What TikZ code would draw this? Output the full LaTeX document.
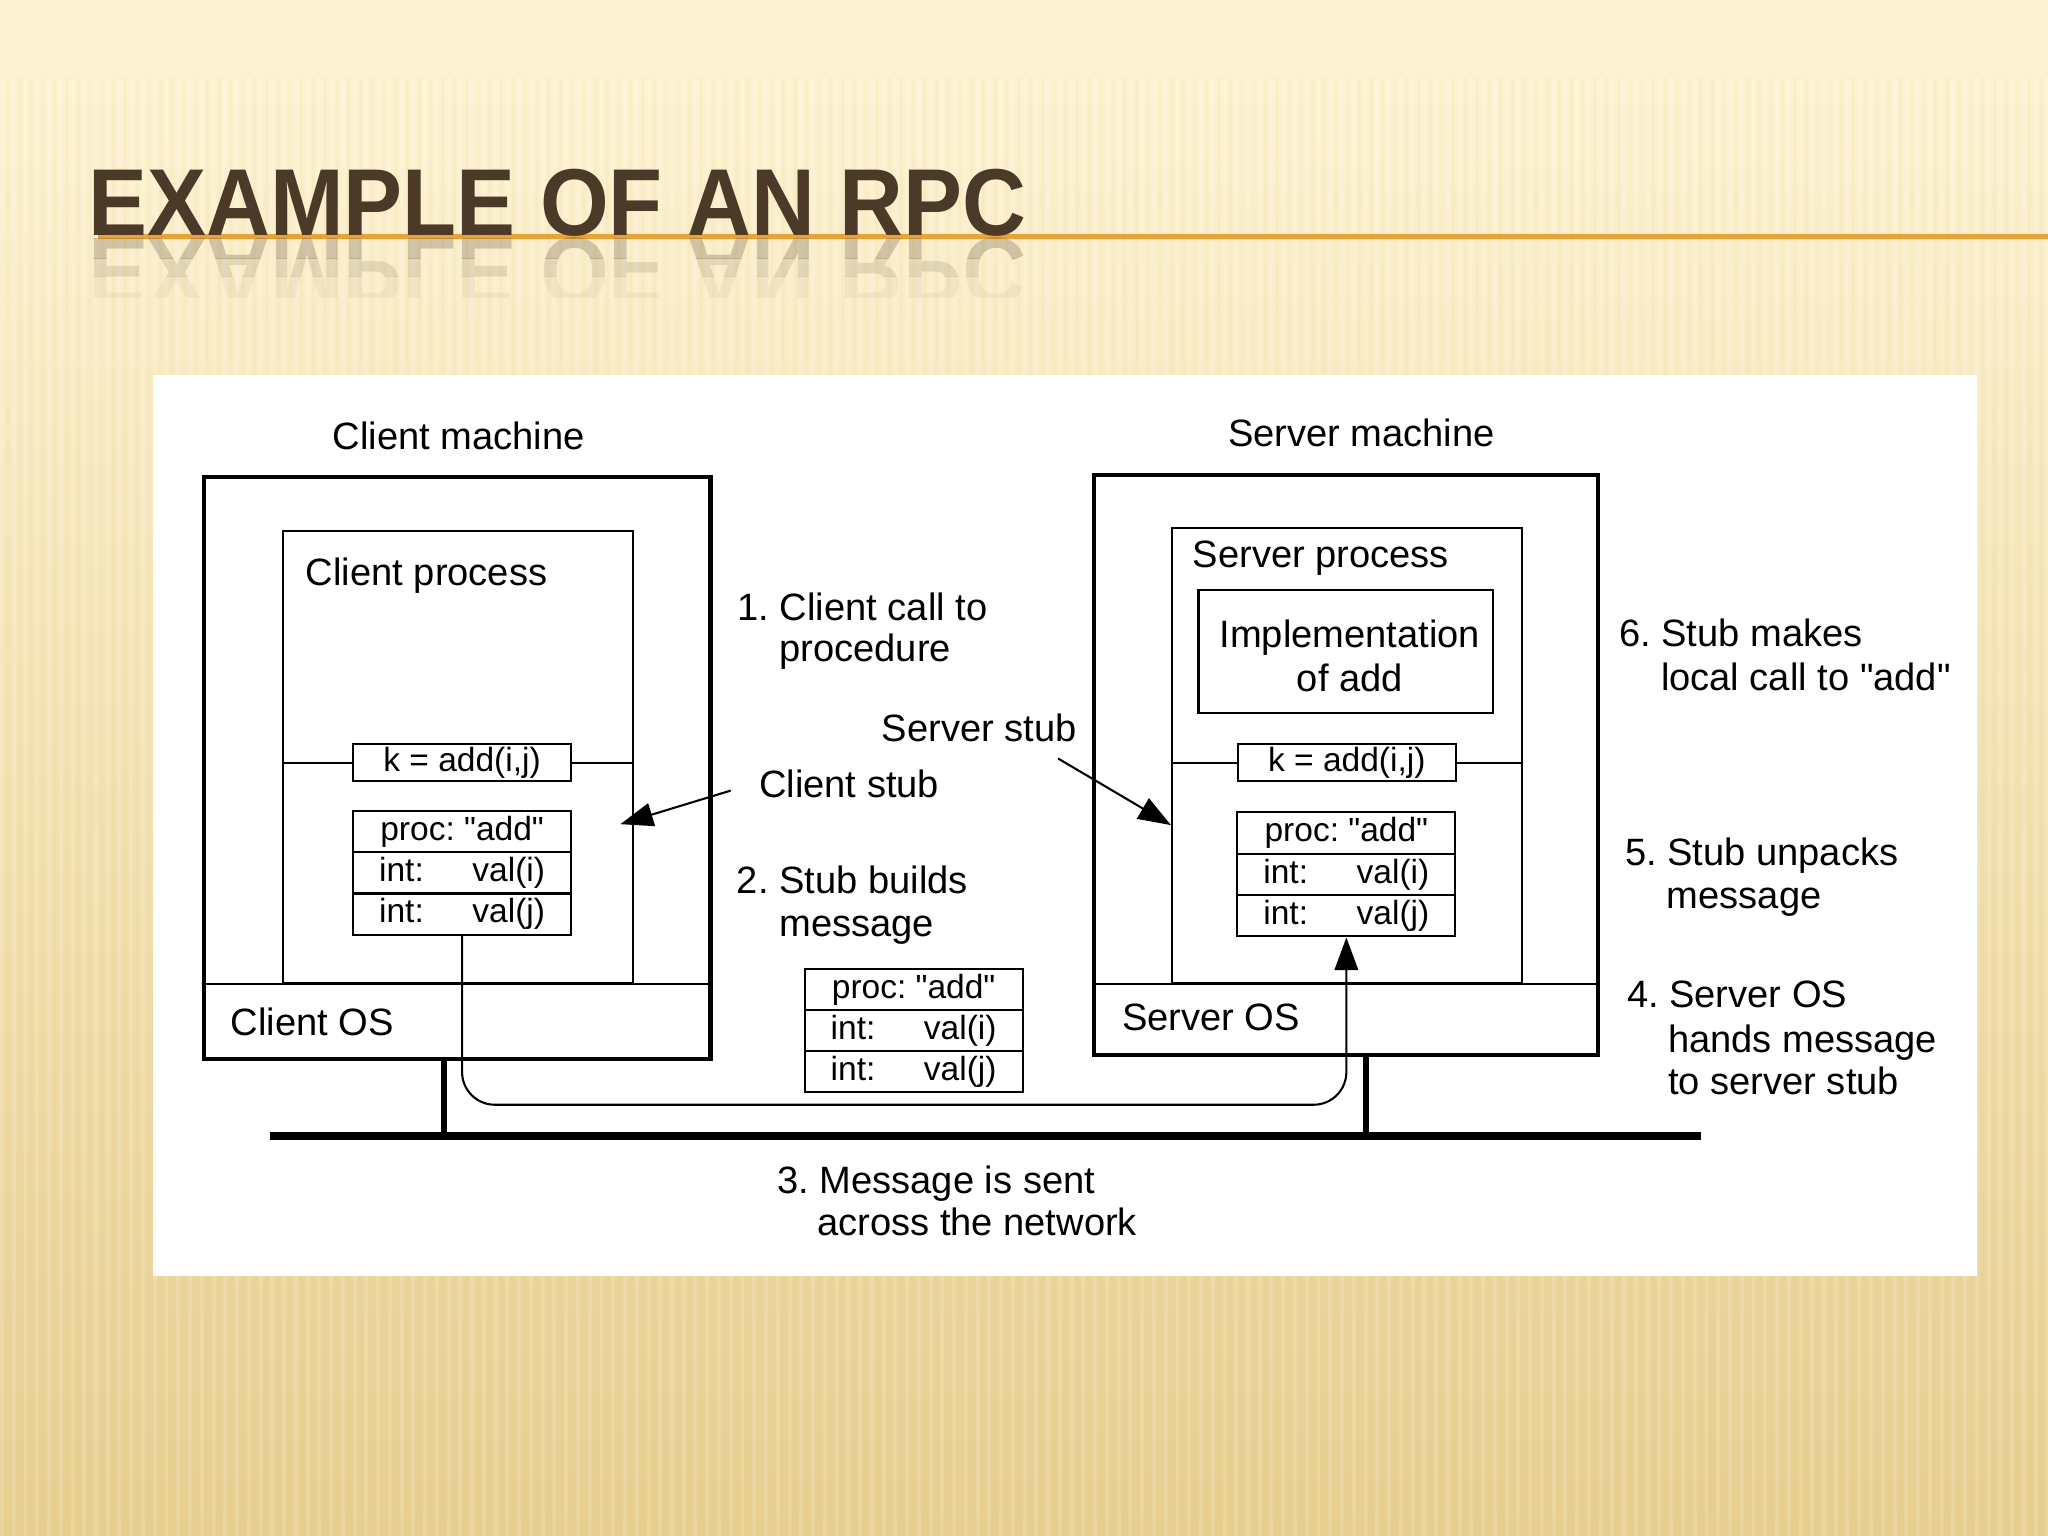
\documentclass[tikz,border=0pt]{standalone}
\usepackage{fontspec}
\setmainfont{Liberation Sans}[Ligatures=TeXOff]
\usetikzlibrary{arrows.meta}
\definecolor{bgtop}{HTML}{FEF4D4}
\definecolor{bgmid}{HTML}{F9E8B9}
\definecolor{bgbot}{HTML}{E7CE8E}
\definecolor{titlec}{HTML}{4B3A27}
\definecolor{rulec}{HTML}{E8A236}
\newcommand\mylbl{\fontsize{8.3}{9.4}\selectfont}
\newcommand\myboxf{\fontsize{7.3}{8.5}\selectfont}
\newcommand\mytitlef{\fontsize{20.7}{24}\selectfont\bfseries}
\newcommand\dq{\char34\relax}
\frenchspacing
\begin{document}
\begin{tikzpicture}[x=0.1mm,y=-0.1mm,
  thinl/.style={line width=0.45pt},
  machine/.style={draw, line width=0.9pt, inner sep=0},
  procbox/.style={draw, line width=0.45pt, inner sep=0},
  rowbox/.style={draw, line width=0.45pt, inner sep=0, minimum width=16.7mm, minimum height=3.15mm, font=\myboxf},
  lbl/.style={anchor=base west, inner sep=0, font=\mylbl},
  arrowtip/.style={-{Triangle[length=2.5mm,width=1.8mm]}},
  titletext/.style={anchor=base west, inner sep=0, text=titlec, font=\mytitlef, xscale=0.93},
]
\useasboundingbox (0,0) rectangle (1568,1176);
% background
\shade[top color=bgtop, middle color=bgmid, bottom color=bgbot] (0,0) rectangle (1568,1176);
\foreach \x in {0,9,...,1566} {
  \fill[white, opacity=0.16] (\x,60) rectangle ++(3,1116);
  \fill[bgbot, opacity=0.10] (\x+5,60) rectangle ++(2,1116);
}
% title
\draw[rulec, line width=1pt] (75,181) -- (1568,181);
\begin{scope}
  \clip (0,182) rectangle (900,198);
  \node[titletext, opacity=0.24, yscale=-1] (titlerefa) at (67,182.5) {EXAMPLE OF AN RPC};
\end{scope}
\begin{scope}
  \clip (0,198) rectangle (900,212);
  \node[titletext, opacity=0.13, yscale=-1] (titlerefb) at (67,182.5) {EXAMPLE OF AN RPC};
\end{scope}
\begin{scope}
  \clip (0,212) rectangle (900,228);
  \node[titletext, opacity=0.05, yscale=-1] (titlerefc) at (67,182.5) {EXAMPLE OF AN RPC};
\end{scope}
\node[titletext] (title) at (67,180.5) {EXAMPLE OF AN RPC};
% white panel
\fill[white] (117,287) rectangle (1514,977);

% ---------- client machine ----------
\node[machine, minimum width=38.8mm, minimum height=44.6mm] (cm) at (350,588) {};
\node[procbox, minimum width=26.8mm, minimum height=34.6mm] (cp) at (350.5,579.3) {};
\draw[thinl] (cm.west |- cp.south) -- (cm.east |- cp.south);
\node[rowbox, minimum height=2.83mm] (ck) at (353.8,583.9) {k = add(i,j)};
\draw[thinl] (cp.west |- ck) -- (ck.west);
\draw[thinl] (ck.east) -- (cp.east |- ck);
\node[rowbox] (cmsga) at (353.8,636.7) {proc: \dq add\dq};
\node[rowbox] (cmsgb) at (353.8,668.3) {\makebox[12.7mm]{int:\hfill val(i)}};
\node[rowbox] (cmsgc) at (353.8,700) {\makebox[12.7mm]{int:\hfill val(j)}};
\node[lbl] (cmlabel) at (254,344.2) {Client machine};
\node[lbl] (cplabel) at (233.5,448) {Client process};
\node[lbl] (coslabel) at (176,792.6) {Client OS};

% ---------- server machine ----------
\node[machine, minimum width=38.6mm, minimum height=44.43mm] (sm) at (1030.7,585.85) {};
\node[procbox, minimum width=26.8mm, minimum height=34.8mm] (sp) at (1031.4,578.3) {};
\draw[thinl] (sm.west |- sp.south) -- (sm.east |- sp.south);
\node[procbox, minimum width=22.54mm, minimum height=9.4mm] (impl) at (1030.3,499) {};
\node[font=\mylbl, align=center, inner sep=0] (impltext) at (1033.5,502) {Implementation\\[0.3pt]of add};
\node[rowbox, minimum height=2.83mm] (sk) at (1031.15,583.9) {k = add(i,j)};
\draw[thinl] (sp.west |- sk) -- (sk.west);
\draw[thinl] (sk.east) -- (sp.east |- sk);
\node[rowbox] (smsga) at (1030.8,637.75) {proc: \dq add\dq};
\node[rowbox] (smsgb) at (1030.8,669.5) {\makebox[12.7mm]{int:\hfill val(i)}};
\node[rowbox] (smsgc) at (1030.8,701.2) {\makebox[12.7mm]{int:\hfill val(j)}};
\node[lbl] (smlabel) at (939.5,342) {Server machine};
\node[lbl] (splabel) at (912.5,434.7) {Server process};
\node[lbl] (soslabel) at (858.5,789.2) {Server OS};

% ---------- message in transit ----------
\node[rowbox] (tmsga) at (699.5,757.5) {proc: \dq add\dq};
\node[rowbox] (tmsgb) at (699.5,789) {\makebox[12.7mm]{int:\hfill val(i)}};
\node[rowbox] (tmsgc) at (699.5,820.5) {\makebox[12.7mm]{int:\hfill val(j)}};

% ---------- network ----------
\coordinate (netl) at (206.8,869.5);
\coordinate (netr) at (1302,869.5);
\coordinate (cdrop) at (340,869.5);
\coordinate (sdrop) at (1045.5,869.5);
\draw[line width=1.3pt] (cdrop |- cm.south) -- (cdrop);
\draw[line width=1.3pt] (sdrop |- sm.south) -- (sdrop);
\draw[line width=1.7pt] (netl) -- (netr);
\coordinate (msgbend) at (0,845.8);
\draw[thinl, rounded corners=2.5mm, arrowtip] (cmsgc.south) -- (cmsgc.south |- msgbend) -- (smsgc.south |- msgbend) -- (smsgc.south);

% ---------- stub labels and arrows ----------
\node[lbl] (cstub) at (580.5,610.7) {Client stub};
\node[lbl] (sstub) at (674.5,567.7) {Server stub};
\coordinate (cstubtip) at (475,631);
\coordinate (sstubtip) at (896.5,631.7);
\draw[thinl, arrowtip] (cstub.west) ++(-21,5) -- (cstubtip);
\draw[thinl, arrowtip] (sstub.south east) ++(-15,12) -- (sstubtip);

% ---------- step labels ----------
\node[lbl] (sa) at (564,474.7) {1. Client call to};
\node[lbl] (sb) at (596,506.7) {procedure};
\node[lbl] (sc) at (563.5,683.7) {2. Stub builds};
\node[lbl] (sd) at (596,716.8) {message};
\node[lbl] (se) at (594.5,913.6) {3. Message is sent};
\node[lbl] (sf) at (625,945.6) {across the network};
\node[lbl] (sg) at (1239,495) {6. Stub makes};
\node[lbl] (sh) at (1271,528.3) {local call to \dq add\dq};
\node[lbl] (si) at (1243.5,663) {5. Stub unpacks};
\node[lbl] (sj) at (1275.5,695.4) {message};
\node[lbl] (sk4) at (1245,771.6) {4. Server OS};
\node[lbl] (sl) at (1276.5,805.5) {hands message};
\node[lbl] (sm4) at (1276.5,838) {to server stub};
\end{tikzpicture}
\end{document}
